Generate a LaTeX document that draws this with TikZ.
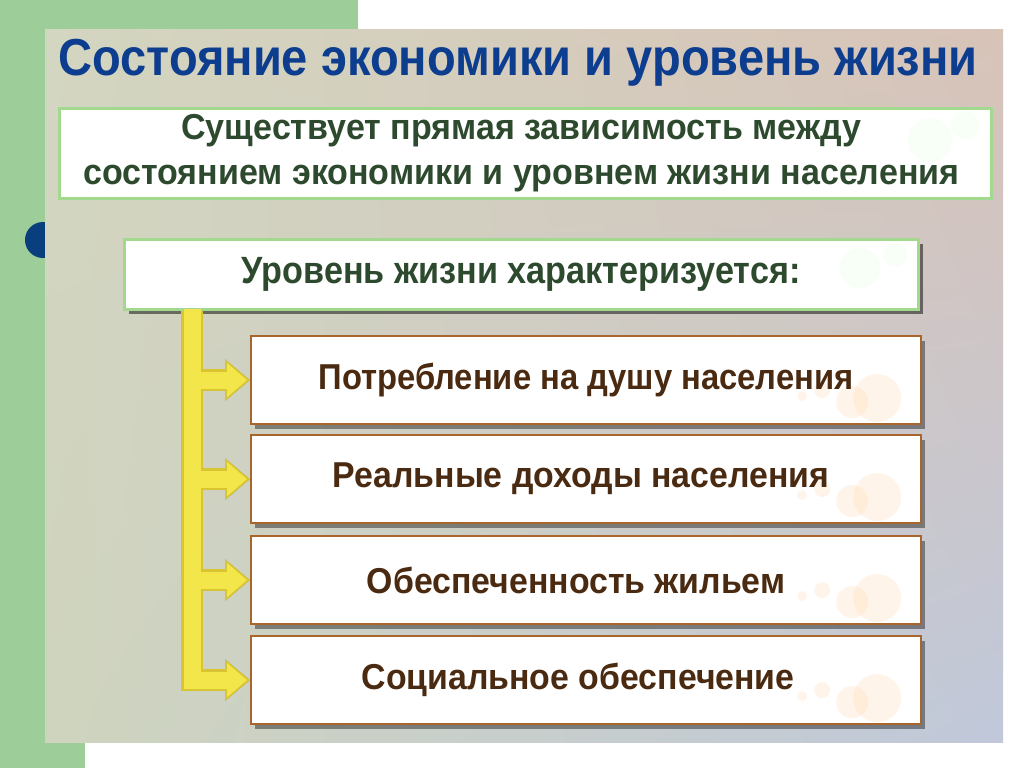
\documentclass[tikz,border=0pt]{standalone}
\usepackage{fontspec}
\setmainfont{Liberation Sans}
\usetikzlibrary{arrows.meta,shadows,shadings}
\definecolor{leftgreen}{HTML}{9DCD98}
\definecolor{dotblue}{HTML}{0A3F7E}
\definecolor{titleblue}{HTML}{0D3D8E}
\definecolor{greentext}{HTML}{2E4A2E}
\definecolor{greenborder}{HTML}{A3D98E}
\definecolor{itemborder}{HTML}{A8652C}
\definecolor{itemtext}{HTML}{4A2A10}
\definecolor{yelfill}{HTML}{F2E64A}
\definecolor{yeledge}{HTML}{D9C431}
\definecolor{pUL}{HTML}{D3D6C0}
\definecolor{pUR}{HTML}{D8C3B8}
\definecolor{pLL}{HTML}{CFD4BE}
\definecolor{pLR}{HTML}{C0C8DA}
\newcommand{\narrow}[2]{\scalebox{#1}[1]{#2}}
\begin{document}
\begin{tikzpicture}[x=1pt,y=-1pt,
  greenbox/.style={draw=greenborder, line width=2.5pt, fill=white, anchor=north west, inner sep=0pt, text=greentext},
  itembox/.style={draw=itemborder, line width=2.2pt, fill=white, minimum width=670pt, minimum height=88pt,
    anchor=north west, inner sep=0pt, font=\fontsize{36}{40}\selectfont\bfseries, text=itemtext,
    drop shadow={shadow xshift=4pt, shadow yshift=-5pt, fill=black, opacity=.4}},
  itemtxt/.style={font=\fontsize{36}{40}\selectfont\bfseries, text=itemtext},
  yelshadow/.style={draw=black, opacity=.25, line width=22pt, -{Triangle[width=40pt,length=25pt]}},
  yelout/.style={draw=yeledge, line width=22pt, -{Triangle[width=40pt,length=25pt]}},
  yelin/.style={draw=yelfill, line width=17pt, -{Triangle[width=33pt,length=20pt]}},
  blobp/.style={fill=orange!40!white, opacity=.2},
  blobg/.style={fill=green!30!white, opacity=.1}]
\useasboundingbox (0,0) rectangle (1024,768);
\fill[white] (0,0) rectangle (1024,768);
% green background stripes
\fill[leftgreen] (0,0) rectangle (358,400);
\fill[leftgreen] (0,0) rectangle (85,768);
% blue dot
\fill[dotblue] (43,240) circle (18);
% panel
\shade[upper left=pUL, upper right=pUR, lower left=pLL, lower right=pLR] (45,30) rectangle (1003,742);
% title
\node[font=\fontsize{52}{60}\selectfont\bfseries, text=titleblue, anchor=base] (title) at (518,75)
  {\narrow{0.905}{Состояние экономики и уровень жизни}};
% box 1
\node[greenbox, minimum width=932pt, minimum height=90pt] (dep) at (58,107) {};
\fill[blobg] (930,140) circle (22);
\fill[blobg] (965,125) circle (14);
\node[font=\fontsize{36}{45}\selectfont\bfseries, text=greentext, align=center] (deptext) at ([xshift=-4pt]dep.center)
  {\narrow{0.945}{Существует прямая зависимость между}\\\narrow{0.945}{состоянием экономики и уровнем жизни населения}};
% box 2
\node[greenbox, minimum width=794pt, minimum height=70pt,
  drop shadow={shadow xshift=5pt, shadow yshift=-5pt, fill=black, opacity=.5}] (lvl) at (123,238) {};
\fill[blobg] (860,268) circle (20);
\fill[blobg] (895,255) circle (12);
\node[font=\fontsize{38}{44}\selectfont\bfseries, text=greentext] (lvltext) at (lvl.center)
  {\narrow{0.9}{Уровень жизни характеризуется:}};
% item boxes
\node[itembox] (a) at (250,335) {};
\node[itembox] (b) at (250,434) {};
\node[itembox] (c) at (250,535) {};
\node[itembox] (d) at (250,635) {};
\foreach \n in {a,b,c,d}{
  \fill[blobp] ([xshift=-45pt,yshift=-18pt]\n.east) circle (24);
  \fill[blobp] ([xshift=-70pt,yshift=-22pt]\n.east) circle (16);
  \fill[blobp] ([xshift=-100pt,yshift=-10pt]\n.east) circle (8);
  \fill[blobp] ([xshift=-120pt,yshift=-16pt]\n.east) circle (5);
}
\node[itemtxt] (at) at (a.center) {\narrow{0.91}{Потребление на душу населения}};
\node[itemtxt] (bt) at ([xshift=-5pt]b.center) {\narrow{0.94}{Реальные доходы населения}};
\node[itemtxt] (ct) at ([xshift=-10pt]c.center) {\narrow{0.94}{Обеспеченность жильем}};
\node[itemtxt] (dt) at ([xshift=-8pt]d.center) {\narrow{0.94}{Социальное обеспечение}};
% connector
\coordinate (bar) at (192,0);
\begin{scope}[shift={(4,4)}]
  \draw[yelshadow] (bar |- lvl.south) |- (d.west);
  \foreach \n in {a,b,c} \draw[yelshadow] (bar |- \n.west) -- (\n.west);
\end{scope}
\draw[yelout] (bar |- lvl.south) |- (d.west);
\foreach \n in {a,b,c} \draw[yelout] (bar |- \n.west) -- (\n.west);
\draw[yelin] ([yshift=2pt]bar |- lvl.south) |- ([xshift=-3pt]d.west);
\foreach \n in {a,b,c} \draw[yelin] (bar |- \n.west) -- ([xshift=-3pt]\n.west);
\end{tikzpicture}
\end{document}
